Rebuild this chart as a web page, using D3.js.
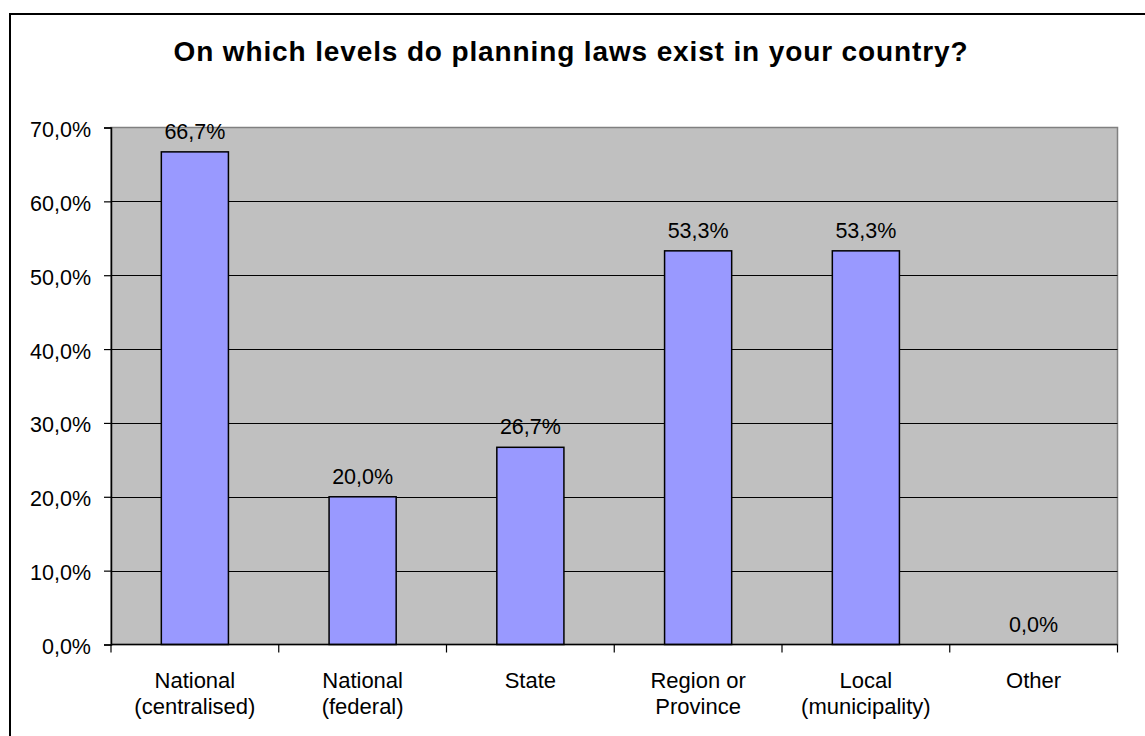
<!DOCTYPE html>
<html>
<head>
<meta charset="utf-8">
<script src="https://cdn.jsdelivr.net/npm/d3@7"></script>
<style>
  html, body { margin: 0; padding: 0; background: #fff; }
  svg { display: block; font-family: "Liberation Sans", Arial, sans-serif; }
</style>
</head>
<body>
<svg id="chart" width="1145" height="736"></svg>
<script>
// Survey answers: share of respondents per level of planning law
const categories = [
  ["National", "(centralised)"],
  ["National", "(federal)"],
  ["State"],
  ["Region or", "Province"],
  ["Local", "(municipality)"],
  ["Other"]
];
const values = [66.7, 20.0, 26.7, 53.3, 53.3, 0.0];
const yTicks = [0, 10, 20, 30, 40, 50, 60, 70];
const title = "On which levels do planning laws exist in your country?";

(function draw() {
  const svg = d3.select("#chart");
  const fmt = v => d3.format(".1f")(v).replace(".", ",") + "%";
  const labelSize = 21.5;

  // Outer frame (only left and top edges fall inside the canvas)
  svg.append("rect")
    .attr("x", 10).attr("y", 14)
    .attr("width", 1145).attr("height", 736)
    .attr("fill", "none").attr("stroke", "#000").attr("stroke-width", 2);

  svg.append("text")
    .attr("x", 570.5).attr("y", 61)
    .attr("text-anchor", "middle")
    .attr("font-size", 28).attr("font-weight", "bold")
    .attr("textLength", 794).attr("lengthAdjust", "spacing")
    .text(title);

  const plotL = 111, plotR = 1117.5, plotT = 127.5, plotB = 644.5;

  const x = d3.scaleBand().domain(d3.range(categories.length)).range([plotL, plotR]).padding(0);
  const y = d3.scaleLinear().domain([0, 70]).range([plotB, plotT]);

  // Plot area
  svg.append("rect")
    .attr("x", plotL).attr("y", plotT)
    .attr("width", plotR - plotL).attr("height", plotB - plotT)
    .attr("fill", "#C0C0C0").attr("stroke", "#808080").attr("stroke-width", 1.5);

  // Gridlines
  svg.append("g").selectAll("line")
    .data(yTicks.filter(t => t > 0 && t < 70))
    .join("line")
    .attr("x1", plotL).attr("x2", plotR)
    .attr("y1", d => Math.round(y(d)) + 0.5).attr("y2", d => Math.round(y(d)) + 0.5)
    .attr("stroke", "#000").attr("stroke-width", 1.2);

  // Bars
  const barW = x.bandwidth() * 0.4;
  svg.append("g").selectAll("rect")
    .data(values)
    .join("rect")
    .attr("x", (d, i) => x(i) + (x.bandwidth() - barW) / 2)
    .attr("y", d => y(d))
    .attr("width", barW)
    .attr("height", d => y(0) - y(d))
    .attr("fill", "#9999FF")
    .attr("stroke", "#000").attr("stroke-width", 1.5)
    .attr("visibility", d => d > 0 ? "visible" : "hidden");

  // Value labels
  svg.append("g").selectAll("text")
    .data(values)
    .join("text")
    .attr("x", (d, i) => x(i) + x.bandwidth() / 2)
    .attr("y", d => y(d) - 13)
    .attr("text-anchor", "middle")
    .attr("font-size", labelSize)
    .text(d => fmt(d));

  // Y axis
  const yAxis = d3.axisLeft(y).tickValues(yTicks).tickSize(7).tickPadding(13)
    .tickFormat(d => fmt(d));
  const gy = svg.append("g").attr("transform", `translate(${plotL},0)`).call(yAxis);
  gy.select(".domain").attr("stroke", "#000").attr("stroke-width", 1.5);
  gy.selectAll(".tick line").attr("stroke", "#000").attr("stroke-width", 1.2);
  gy.selectAll(".tick text").attr("font-size", labelSize).attr("fill", "#000")
    .attr("dy", "0.42em")
    .attr("font-family", "Liberation Sans, Arial, sans-serif");

  // X axis with ticks between categories
  const gx = svg.append("g");
  gx.append("line")
    .attr("x1", plotL).attr("x2", plotR)
    .attr("y1", plotB).attr("y2", plotB)
    .attr("stroke", "#000").attr("stroke-width", 1.5);
  gx.selectAll("line.tick")
    .data(d3.range(categories.length + 1))
    .join("line").attr("class", "tick")
    .attr("x1", i => i < categories.length ? x(i) : plotR)
    .attr("x2", i => i < categories.length ? x(i) : plotR)
    .attr("y1", plotB).attr("y2", plotB + 8)
    .attr("stroke", "#000").attr("stroke-width", 1.2);
  gx.selectAll("text")
    .data(categories)
    .join("text")
    .attr("x", (d, i) => x(i) + x.bandwidth() / 2)
    .attr("y", 688)
    .attr("text-anchor", "middle")
    .attr("font-size", 22)
    .selectAll("tspan")
    .data(d => d)
    .join("tspan")
    .attr("x", function() { return d3.select(this.parentNode).attr("x"); })
    .attr("dy", (d, i) => i === 0 ? 0 : 25.5)
    .text(d => d);
})();
</script>
</body>
</html>
